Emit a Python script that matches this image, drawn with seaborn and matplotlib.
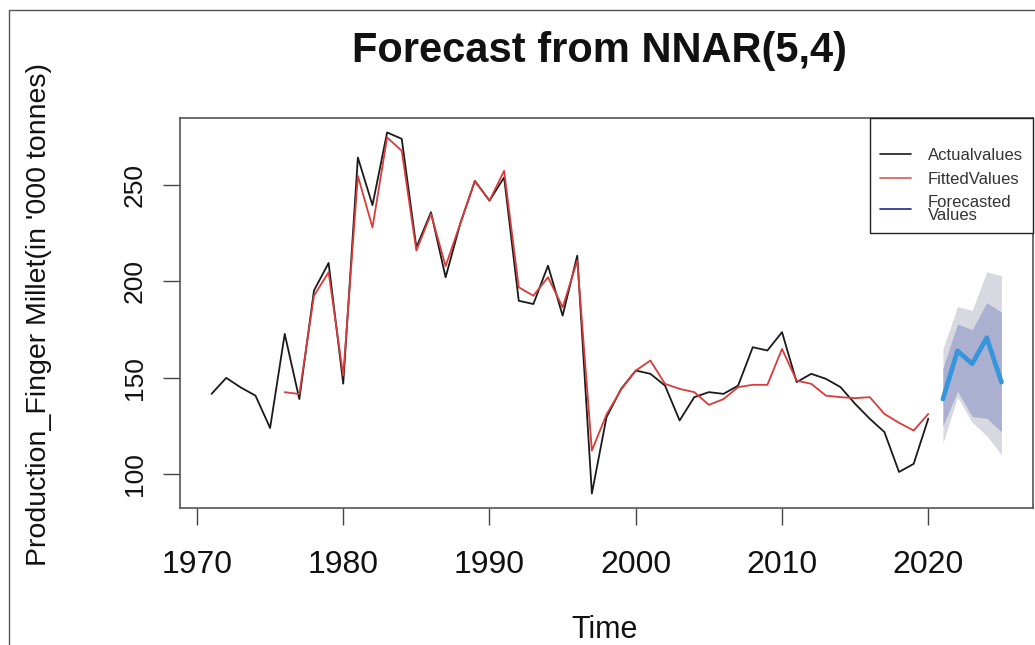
import matplotlib
matplotlib.use("Agg")
import matplotlib.pyplot as plt
from matplotlib.lines import Line2D
import seaborn as sns

# ---- data ----
years_actual = list(range(1971, 2021))
actual = [141.7, 150, 145, 140.8, 124, 172.8, 139, 195.3, 209.6, 147,
          264.3, 239.6, 277.3, 274, 217.7, 235.9, 202.2, 230, 252.2, 241.9,
          254, 190, 188.3, 208.2, 182.3, 213.4, 90, 129.6, 144.3, 153.8,
          152.1, 146, 127.9, 140, 142.6, 141.7, 146, 165.9, 164.2, 173.7,
          147.8, 152.1, 149.5, 145.2, 136.5, 128.8, 121.9, 101.2, 105.4, 128.8]

years_fitted = list(range(1976, 2021))
fitted = [142.6, 141.6, 192.6, 204.8, 151.2,
          254.8, 228, 274.7, 267.8, 216, 235, 208, 230, 252, 242,
          257.4, 197, 192.6, 202.2, 186.6, 210.8, 112.3, 131, 144, 153.8,
          159, 146.9, 144.3, 142.6, 136, 139, 145.2, 146.4, 146.4, 165,
          148.6, 146.9, 140.8, 140, 139.5, 140, 131.3, 126.7, 122.7, 131.3]

years_fc = list(range(2021, 2026))
forecast = [139, 164, 157.3, 170.8, 147.8]
lo80 = [125, 143, 130, 129, 122]
hi80 = [155, 178, 175, 189, 184]
lo95 = [116, 140, 127, 120, 110]
hi95 = [165, 187, 185, 205, 203]

x_ticks = [1970, 1980, 1990, 2000, 2010, 2020]
y_ticks = [100, 150, 200, 250]

title = "Forecast from NNAR(5,4)"
x_label = "Time"
y_label = "Production_Finger Millet(in '000 tonnes)"
legend_labels = ["Actualvalues", "FittedValues", "Forecasted\nValues"]

# ---- style ----
sns.set_style("white")
plt.rcParams['font.family'] = ['Liberation Sans', 'DejaVu Sans']

W, H = 1035, 645
fig = plt.figure(figsize=(W / 100, H / 100), dpi=100)
ax = fig.add_axes([180 / W, 1 - 508 / H, (1033 - 180) / W, (508 - 118) / H])

ax.fill_between(years_fc, lo95, hi95, color="#d8d9e0", lw=0)
ax.fill_between(years_fc, lo80, hi80, color="#abb0d0", lw=0)
sns.lineplot(x=years_actual, y=actual, color="#1a1a1a", lw=1.3, ax=ax)
sns.lineplot(x=years_fitted, y=fitted, color="#d93b3b", lw=1.3, ax=ax)
sns.lineplot(x=years_fc, y=forecast, color="#3596dc", lw=3.4, ax=ax)

ax.set_xlim(1968.84, 2027.16)
ax.set_ylim(82.5, 284.8)
ax.set_xticks(x_ticks)
ax.set_yticks(y_ticks)
ax.set_xticklabels([str(t) for t in x_ticks], fontsize=23, color="#111")
ax.set_yticklabels([str(t) for t in y_ticks], fontsize=19, color="#111",
                   rotation=90, va="center")
ax.tick_params(axis="x", length=12, width=1, color="#444", pad=18, bottom=True)
ax.tick_params(axis="y", length=12, width=1, color="#444", pad=12, left=True)
for s in ax.spines.values():
    s.set_color("#555")
    s.set_linewidth(1.2)

handles = [Line2D([], [], color="#1a1a1a", lw=1.2),
           Line2D([], [], color="#e07070", lw=1.4),
           Line2D([], [], color="#202a8a", lw=1.2)]
leg = ax.legend(handles, legend_labels, loc="upper right", bbox_to_anchor=(1, 1),
                borderaxespad=0, fancybox=False, framealpha=1, edgecolor="#222",
                fontsize=12, handlelength=1.9, labelspacing=0.5, borderpad=0.6,
                handletextpad=1.0, title=" ", title_fontsize=9)
leg.get_frame().set_linewidth(1.0)
for t in leg.get_texts():
    t.set_color("#333")
    t.set_linespacing(0.8)

fig.text(600 / W, 1 - 51 / H, title, ha="center", va="center",
         fontsize=30, fontweight="bold", color="#111")
fig.text(39 / W, 1 - 315 / H, y_label, ha="center", va="center",
         rotation=90, fontsize=20.5, color="#111")
fig.text(605 / W, 1 - 630 / H, x_label, ha="center", va="center",
         fontsize=22, color="#111")

# outer frame of the picture
fig.add_artist(Line2D([9 / W, 9 / W], [0, 1 - 10 / H], color="#555", lw=1,
                      transform=fig.transFigure))
fig.add_artist(Line2D([9 / W, 1], [1 - 10 / H, 1 - 10 / H], color="#555", lw=1,
                      transform=fig.transFigure))

fig.savefig("out.png", dpi=100)
